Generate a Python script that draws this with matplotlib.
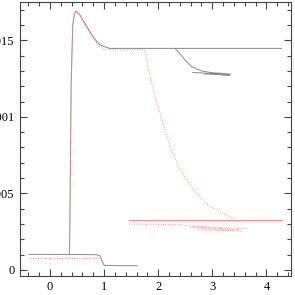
import matplotlib
matplotlib.use("Agg")
import matplotlib.pyplot as plt
from matplotlib.ticker import MultipleLocator

plt.rcParams["font.family"] = ["Liberation Serif", "DejaVu Serif"]
plt.rcParams["mathtext.fontset"] = "stix"

# gray curves (solid)
low_x = [-0.39, 0.0, 0.5, 0.85, 0.92, 0.96, 1.0, 1.3, 1.61]
low_y = [0.000102, 0.000102, 0.000101, 0.0001, 0.000095, 0.00006, 0.00003, 0.000028, 0.000028]

main_x = [0.36, 0.37, 0.39, 0.42, 0.45, 0.48, 0.555, 0.61, 0.8, 0.92, 1.1, 2.3, 4.28]
main_y = [0.0001, 0.0004, 0.0012, 0.0016, 0.00167, 0.00169, 0.001664, 0.00163, 0.00152, 0.00147, 0.001447, 0.001447, 0.001447]

branch_x = [2.31, 2.40, 2.50, 2.62, 2.81, 3.0, 3.18, 3.33]
branch_y = [0.001447, 0.001414, 0.00137, 0.001327, 0.001299, 0.001288, 0.001284, 0.001273]
tangle_x = [[2.64, 3.0, 3.33], [2.85, 3.1, 3.3], [2.95, 3.33]]
tangle_y = [[0.00129, 0.001283, 0.001275], [0.00128, 0.001276, 0.00127], [0.001285, 0.001279]]

# red curves
rlow_x = [-0.37, 0.3, 0.9]
rlow_y = [0.0000803, 0.0000803, 0.0000803]

rmain_x = [0.36, 0.37, 0.39, 0.42, 0.45, 0.48, 0.555, 0.61, 0.8, 0.92, 1.0, 1.3, 1.6, 1.7, 1.756,
           1.81, 1.94, 2.07, 2.22, 2.37, 2.55, 2.74, 2.92, 3.18, 3.42]
rmain_y = [0.00008, 0.0004, 0.0012, 0.0016, 0.00167, 0.00169, 0.00166, 0.00162, 0.00151, 0.001455,
           0.00144, 0.001437, 0.00144, 0.00144, 0.001436,
           0.001325, 0.00113, 0.00098, 0.000803, 0.000685, 0.000574, 0.00049, 0.000424, 0.000372, 0.000333]

rline_x = [1.46, 4.29]
rline_y = [0.000326, 0.000326]

rbranch_x = [1.46, 2.0, 2.4, 2.55, 3.0, 3.3, 3.65]
rbranch_y = [0.0003, 0.000298, 0.000295, 0.00029, 0.00028, 0.000275, 0.00027]
rtangle_x = [[2.65, 3.1, 3.5], [2.75, 3.2, 3.55], [2.6, 3.0, 3.4]]
rtangle_y = [[0.000283, 0.000272, 0.000262], [0.000262, 0.000258, 0.000255], [0.000278, 0.000268, 0.00026]]

gray = "#8a8a8a"
red = "#ff8a8a"
dot = (0, (1, 1.5))

fig = plt.figure(figsize=(2.95, 2.95), dpi=100)
ax = fig.add_axes([20 / 295, 19 / 295, 271 / 295, 274 / 295])

ax.plot(low_x, low_y, color=gray, lw=0.7)
ax.plot(main_x, main_y, color=gray, lw=0.7)
ax.plot(branch_x, branch_y, color=gray, lw=0.7)
for tx, ty in zip(tangle_x, tangle_y):
    ax.plot(tx, ty, color=gray, lw=0.7)

ax.plot(rlow_x, rlow_y, color=red, lw=0.7, ls=dot)
ax.plot(rmain_x, rmain_y, color=red, lw=0.7, ls=dot)
ax.plot(rline_x, rline_y, color=red, lw=0.7)
ax.plot(rbranch_x, rbranch_y, color=red, lw=0.7, ls=dot)
for tx, ty in zip(rtangle_x, rtangle_y):
    ax.plot(tx, ty, color=red, lw=0.7, ls=dot)

ax.set_xlim(-0.555, 4.455)
ax.set_ylim(-0.0000392, 0.00175)
ax.xaxis.set_minor_locator(MultipleLocator(0.2))
ax.yaxis.set_minor_locator(MultipleLocator(0.0001))
ax.set_yticks([0, 0.0005, 0.001, 0.0015])
ax.set_yticklabels(["0", "0.0005", "0.001", "0.0015"])
ax.set_xticks([0, 1, 2, 3, 4])
ax.set_xticklabels(["0", "1", "2", "3", "4"])
ax.tick_params(which="both", direction="in", top=True, right=True, color="#444444", labelsize=9)
ax.tick_params(which="major", length=5, width=0.8)
ax.tick_params(which="minor", length=3, width=0.8)
ax.tick_params(axis="y", pad=4)
for s in ax.spines.values():
    s.set_color("#444444")
    s.set_linewidth(0.8)
ax.set_xlabel("log t (L$_\\odot$)", fontsize=9, labelpad=3)

plt.savefig("out.png", dpi=100)
